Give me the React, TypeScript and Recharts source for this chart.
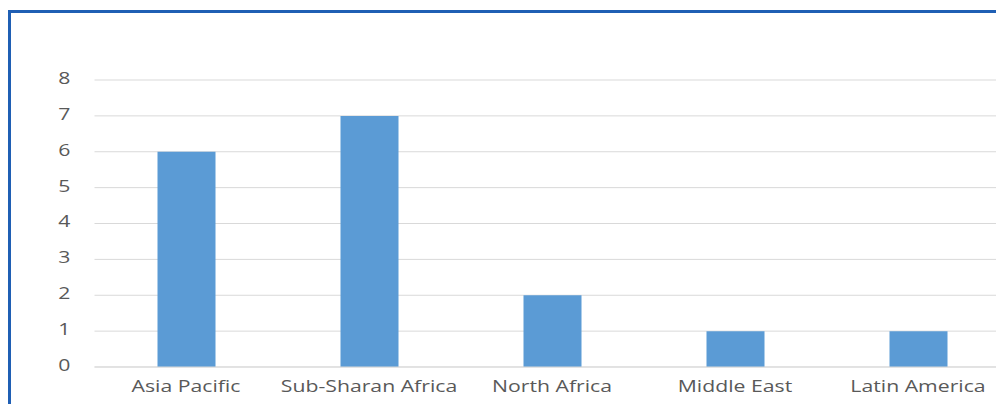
import React from 'react';
import { BarChart, Bar, XAxis, YAxis, CartesianGrid } from 'recharts';

const regions = ['Asia Pacific', 'Sub-Sharan Africa', 'North Africa', 'Middle East', 'Latin America'];
const counts = [6, 7, 2, 1, 1];
const yTicks = [0, 1, 2, 3, 4, 5, 6, 7, 8];

const BAR = '#5b9bd5';
const GRID = '#d9d9d9';
const LABEL = '#595959';
const FRAME = '#1f5fb4';
// the source image is stretched sideways, so labels get a horizontal scale
const STRETCH = 1.37;

const fontProps = { fontFamily: '"Open Sans", sans-serif', fontSize: 15.5, fill: LABEL };

const XTick = ({ x, y, payload }: any) => (
  <g transform={`translate(${x},${y})`}>
    <text transform={`scale(${STRETCH},1)`} textAnchor="middle" dy="0.71em" {...fontProps}>
      {payload.value}
    </text>
  </g>
);

const YTick = ({ x, y, payload }: any) => (
  <g transform={`translate(${x},${y})`}>
    <text transform={`scale(${STRETCH},1)`} textAnchor="end" dy="0.25em" {...fontProps}>
      {payload.value}
    </text>
  </g>
);

export default function App() {
  const data = regions.map((region, i) => ({ region, count: counts[i] }));

  return (
    <div style={{ position: 'absolute', left: 0, top: 0, width: 996, height: 404, overflow: 'hidden', background: '#fff' }}>
      <div
        style={{
          position: 'absolute',
          left: 8,
          top: 10,
          right: 0,
          bottom: 0,
          borderTop: `3px solid ${FRAME}`,
          borderLeft: `3px solid ${FRAME}`,
        }}
      />
      <div style={{ position: 'absolute', left: 0, top: 0 }}>
        <BarChart
          width={1020}
          height={404}
          data={data}
          margin={{ top: 80, right: 10.5, left: 0, bottom: 7 }}
        >
          <CartesianGrid stroke={GRID} vertical={false} />
          <XAxis
            dataKey="region"
            axisLine={{ stroke: GRID }}
            tickLine={false}
            tickSize={0}
            tickMargin={14}
            height={30}
            interval={0}
            tick={<XTick />}
          />
          <YAxis
            domain={[0, 8]}
            ticks={yTicks}
            axisLine={false}
            tickLine={false}
            tickSize={0}
            tickMargin={24}
            width={94.5}
            tick={<YTick />}
          />
          <Bar dataKey="count" fill={BAR} barSize={58} isAnimationActive={false} />
        </BarChart>
      </div>
    </div>
  );
}
